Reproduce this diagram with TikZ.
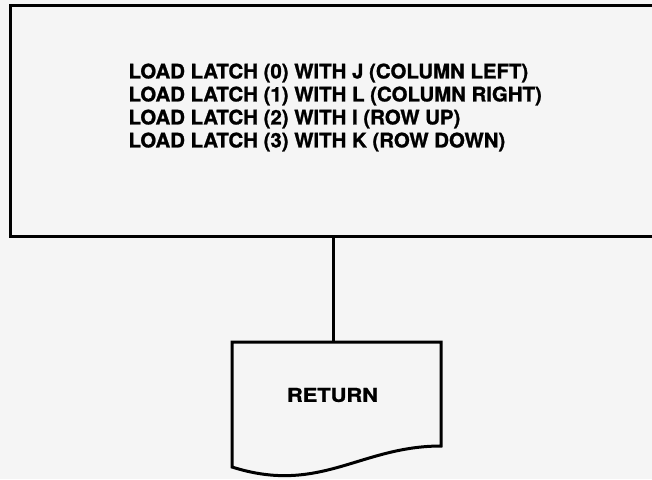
\documentclass[tikz,border=0pt]{standalone}
\usepackage{fontspec}
\setmainfont{TeX Gyre Heros}
\newfontfamily\latchfont[FakeStretch=1.02,FakeBold=1.2]{TeX Gyre Heros}
\newfontfamily\retfont[FakeStretch=1.15,FakeBold=1.2]{TeX Gyre Heros}
\usetikzlibrary{positioning,calc}

\begin{document}
\begin{tikzpicture}[
  x=1pt, y=-1pt,
  line width=3pt,
  procbox/.style={draw, minimum width=646pt, minimum height=231pt, inner sep=0pt},
  flowtext/.style={align=left, inner sep=0pt}
]
\useasboundingbox[fill={rgb,255:red,245;green,245;blue,245}] (0,0) rectangle (652,479);
\clip (0,0) rectangle (652,479);

% latch loading step
\node[procbox] (latch) at (333,120.5) {};
\node[flowtext, anchor=west, font=\latchfont\bfseries\fontsize{20}{23}\selectfont] (latchtext) at (127,107.5) {LOAD LATCH (0) WITH J (COLUMN LEFT)\\
LOAD LATCH (1) WITH L (COLUMN RIGHT)\\
LOAD LATCH (2) WITH I (ROW UP)\\
LOAD LATCH (3) WITH K (ROW DOWN)};

% return (document shape)
\coordinate (rettop) at (333,342);
\draw[line join=miter] (232,342) -- (441,342) -- (441,446)
  .. controls (360,446) and (320,495) .. (232,467) -- cycle;
\node[flowtext, font=\retfont\bfseries\fontsize{19}{23}\selectfont] (ret) at (332.5,395) {RETURN};

\draw (latch.south -| rettop) -- (rettop);
\end{tikzpicture}
\end{document}
